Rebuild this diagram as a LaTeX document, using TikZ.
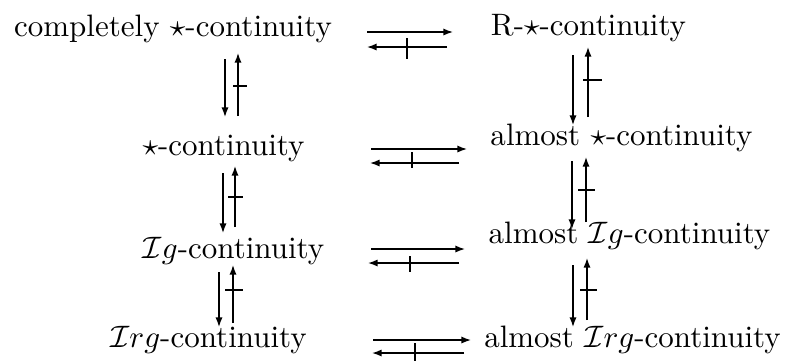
\documentclass[tikz,border=0pt]{standalone}
\usetikzlibrary{arrows.meta}
\begin{document}
\begin{tikzpicture}[x=0.3225pt,y=-0.3225pt,
  lbl/.style={anchor=base,inner sep=0pt},
  imp/.style={-{Latex[length=3.1pt,width=2.3pt]},line width=0.45pt},
  tick/.style={line width=0.45pt}]
\useasboundingbox (0,0) rectangle (785,361);
% nodes
\node[lbl] (c1) at (173,36) {completely $\star$-continuity};
\node[lbl] (r1) at (588.5,35) {R-$\star$-continuity};
\node[lbl] (c2) at (223.5,155) {$\star$-continuity};
\node[lbl] (r2) at (621.5,145) {almost $\star$-continuity};
\node[lbl] (c3) at (233.5,258) {$\mathcal{I}g$-continuity};
\node[lbl] (r3) at (629.5,243) {almost $\mathcal{I}g$-continuity};
\node[lbl] (c4) at (208.5,347) {$\mathcal{I}rg$-continuity};
\node[lbl] (r4) at (632.5,347) {almost $\mathcal{I}rg$-continuity};
% horizontal arrow ends
\coordinate (h1a) at (367,32); \coordinate (h1b) at (453,32);
\coordinate (h1c) at (447,47); \coordinate (h1d) at (367,47);
\coordinate (h2a) at (371,149); \coordinate (h2b) at (467,149);
\coordinate (h2c) at (459,163); \coordinate (h2d) at (370,163);
\coordinate (h3a) at (371,249); \coordinate (h3b) at (465,249);
\coordinate (h3c) at (459,263); \coordinate (h3d) at (368,263);
\coordinate (h4a) at (373,340); \coordinate (h4b) at (471,340);
\coordinate (h4c) at (464,353); \coordinate (h4d) at (372,353);
\draw[imp] (h1a) -- (h1b); \draw[imp] (h1c) -- (h1d);
\draw[imp] (h2a) -- (h2b); \draw[imp] (h2c) -- (h2d);
\draw[imp] (h3a) -- (h3b); \draw[imp] (h3c) -- (h3d);
\draw[imp] (h4a) -- (h4b); \draw[imp] (h4c) -- (h4d);
\draw[tick] (407,38) -- (407,59);
\draw[tick] (412,152) -- (412,168);
\draw[tick] (410,256) -- (410,272);
\draw[tick] (415,343) -- (415,361);
% left vertical
\coordinate (l1a) at (225,59); \coordinate (l1b) at (225,117);
\coordinate (l1c) at (238,116); \coordinate (l1d) at (238,53);
\coordinate (l2a) at (223,173); \coordinate (l2b) at (223,233);
\coordinate (l2c) at (235,227); \coordinate (l2d) at (235,166);
\coordinate (l3a) at (219,272); \coordinate (l3b) at (219,327);
\coordinate (l3c) at (233,323); \coordinate (l3d) at (233,265);
\draw[imp] (l1a) -- (l1b); \draw[imp] (l1c) -- (l1d);
\draw[imp] (l2a) -- (l2b); \draw[imp] (l2c) -- (l2d);
\draw[imp] (l3a) -- (l3b); \draw[imp] (l3c) -- (l3d);
\draw[tick] (233,86) -- (247,86);
\draw[tick] (228,197) -- (243,197);
\draw[tick] (225,290) -- (243,290);
% right vertical
\coordinate (v1a) at (573,55); \coordinate (v1b) at (573,125);
\coordinate (v1c) at (588,117); \coordinate (v1d) at (588,47);
\coordinate (v2a) at (572,161); \coordinate (v2b) at (572,229);
\coordinate (v2c) at (586,222); \coordinate (v2d) at (586,157);
\coordinate (v3a) at (573,265); \coordinate (v3b) at (573,327);
\coordinate (v3c) at (587,320); \coordinate (v3d) at (587,258);
\draw[imp] (v1a) -- (v1b); \draw[imp] (v1c) -- (v1d);
\draw[imp] (v2a) -- (v2b); \draw[imp] (v2c) -- (v2d);
\draw[imp] (v3a) -- (v3b); \draw[imp] (v3c) -- (v3d);
\draw[tick] (583,80) -- (602,80);
\draw[tick] (578,190) -- (595,190);
\draw[tick] (580,290) -- (597,290);
\end{tikzpicture}
\end{document}
